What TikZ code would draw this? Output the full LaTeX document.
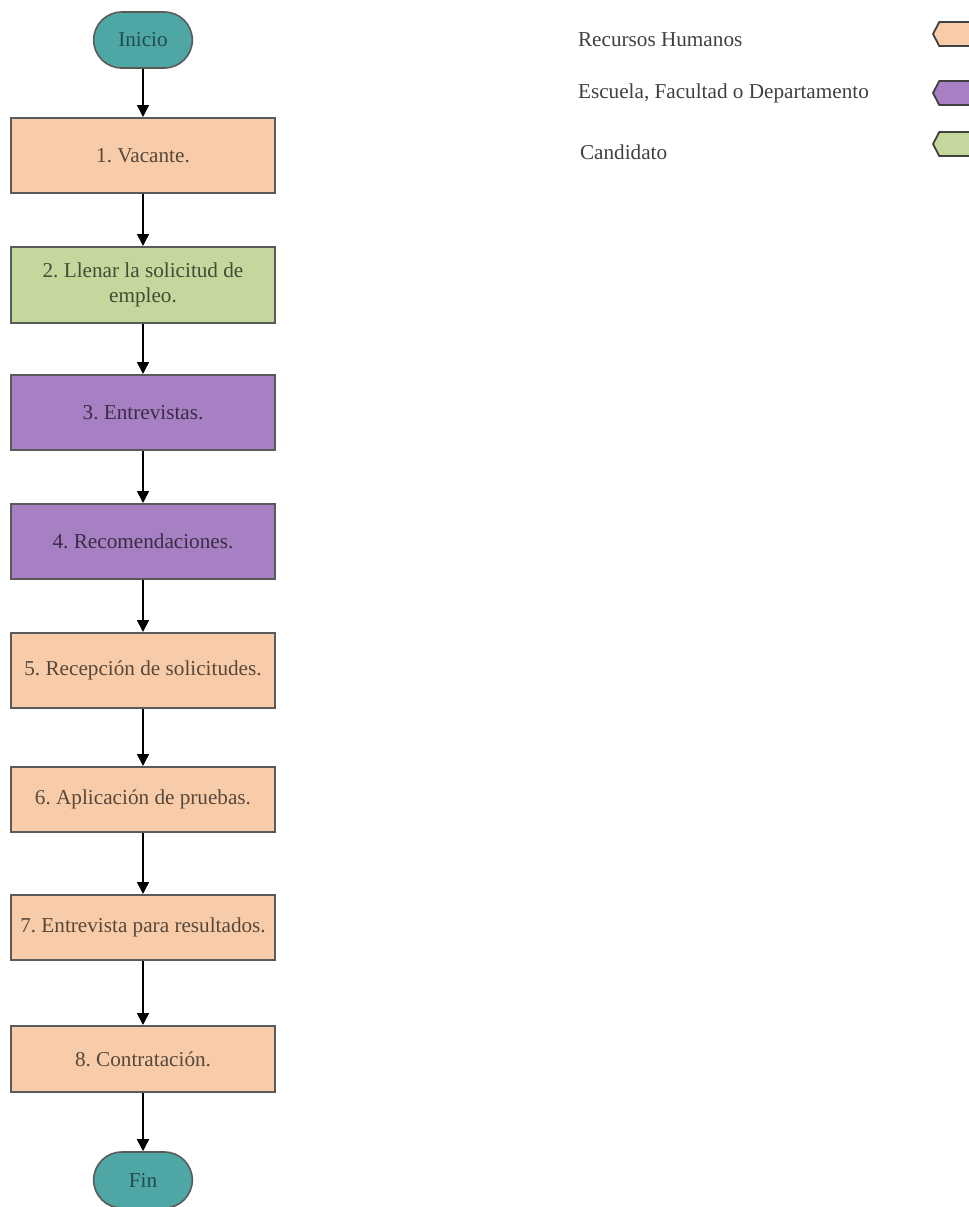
\documentclass[tikz,border=0pt]{standalone}
\usepackage{fontspec}
\setmainfont{Liberation Serif}
\usepackage{xcolor}
\usetikzlibrary{arrows.meta,shapes.misc,shapes.symbols}
\frenchspacing

\definecolor{rhpeach}{HTML}{F9CCA9}
\definecolor{depviolet}{HTML}{A780C4}
\definecolor{candgreen}{HTML}{C4D79C}
\definecolor{endteal}{HTML}{4EA7A5}
\definecolor{edgegray}{HTML}{5A5A5A}

\begin{document}
\begin{tikzpicture}[x=0.5pt,y=-0.5pt,
    paso/.style={draw=edgegray, line width=1pt, minimum width=132pt,
      align=center, font=\fontsize{10.6}{12.5}\selectfont,
      text=black, text opacity=0.65},
    terminal/.style={draw=edgegray, line width=0.8pt, fill=endteal,
      rounded rectangle, minimum width=56pt, minimum height=28pt,
      font=\fontsize{10.6}{12.5}\selectfont, text=black, text opacity=0.55},
    clave/.style={draw=black!75, line width=0.9pt, signal,
      signal to=west and east, signal pointer angle=125,
      minimum width=26pt, minimum height=12pt, inner sep=0pt},
    leyenda/.style={anchor=west, font=\fontsize{10.6}{12.5}\selectfont, text=black!75},
    flecha/.style={-{Triangle[width=6pt,length=6pt]}, line width=0.8pt}]
  \useasboundingbox (0,0) rectangle (969,1207);

  \node[terminal] (ini) at (143,40) {Inicio};
  \node[paso, fill=rhpeach, minimum height=37.5pt] (p1) at (143,155.5) {1. Vacante.};
  \node[paso, fill=candgreen, minimum height=38pt] (p2) at (143,285) {2. Llenar la solicitud de\\ empleo.};
  \node[paso, fill=depviolet, minimum height=37.5pt] (p3) at (143,412.5) {3. Entrevistas.};
  \node[paso, fill=depviolet, minimum height=37.5pt] (p4) at (143,541.5) {4. Recomendaciones.};
  \node[paso, fill=rhpeach, minimum height=37.5pt] (p5) at (143,670.5) {5. Recepción de solicitudes.};
  \node[paso, fill=rhpeach, minimum height=32.5pt] (p6) at (143,799.5) {6. Aplicación de pruebas.};
  \node[paso, fill=rhpeach, minimum height=32.5pt] (p7) at (143,927.5) {7. Entrevista para resultados.};
  \node[paso, fill=rhpeach, minimum height=33pt] (p8) at (143,1059) {8. Contratación.};
  \node[terminal] (fin) at (143,1180) {Fin};

  \draw[flecha] (ini) -- (p1);
  \draw[flecha] (p1) -- (p2);
  \draw[flecha] (p2) -- (p3);
  \draw[flecha] (p3) -- (p4);
  \draw[flecha] (p4) -- (p5);
  \draw[flecha] (p5) -- (p6);
  \draw[flecha] (p6) -- (p7);
  \draw[flecha] (p7) -- (p8);
  \draw[flecha] (p8) -- (fin);

  % leyenda de colores
  \node[leyenda] (lrh) at (571,40) {Recursos Humanos};
  \node[leyenda] (ldep) at (571,93) {Escuela, Facultad o Departamento};
  \node[leyenda] (lcand) at (573,152) {Candidato};
  \node[clave, fill=rhpeach, anchor=west] (krh) at (932,34) {};
  \node[clave, fill=depviolet, anchor=west] (kdep) at (932,93) {};
  \node[clave, fill=candgreen, anchor=west] (kcand) at (932,144) {};
\end{tikzpicture}
\end{document}
